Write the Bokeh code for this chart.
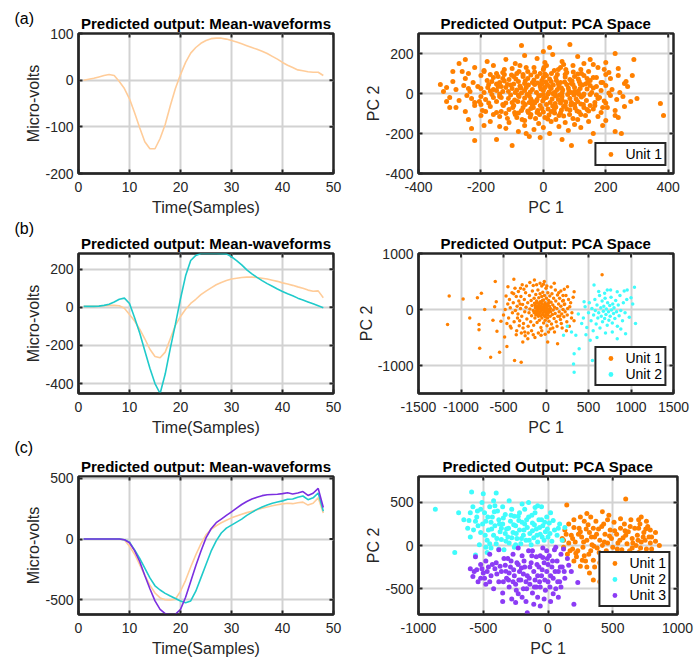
import math
from bokeh.plotting import figure
from bokeh.layouts import column, row
from bokeh.models import Range1d, FixedTicker, Label
from bokeh.embed import file_html
from bokeh.resources import INLINE

# ---------------- data ----------------
samples = list(range(1, 49))

wave_a_unit1 = [0, 2, 4, 7, 10, 12, 10, -3, -18, -40, -70, -102, -132, -147, -147, -125,
                -95, -55, -18, 12, 38, 58, 70, 79, 85, 89, 90, 90, 88, 85, 82, 78,
                74, 70, 66, 62, 57, 51, 45, 38, 32, 27, 22, 20, 18, 17, 17, 10]

wave_b_unit1 = [5, 5, 5, 6, 8, 10, 10, 8, -5, -38, -72, -115, -165, -220, -258, -265,
                -235, -165, -95, -48, -10, 20, 42, 66, 85, 102, 118, 130, 140, 148, 152, 156,
                158, 158, 156, 152, 148, 142, 136, 128, 122, 115, 107, 100, 90, 84, 86, 50]
wave_b_unit2 = [5, 5, 5, 6, 10, 16, 28, 42, 48, 20, -55, -135, -228, -320, -400, -452,
                -350, -215, -90, 45, 165, 245, 272, 282, 282, 282, 282, 281, 280, 265, 245, 222,
                196, 175, 157, 140, 124, 110, 96, 83, 71, 60, 48, 38, 28, 18, 8, -2]

wave_c_unit1 = [0, 0, 0, 0, 0, 0, 0, 0, -8, -60, -125, -210, -300, -380, -445, -485,
                -500, -502, -495, -430, -340, -230, -130, -40, 35, 80, 110, 135, 155, 175, 190, 205,
                218, 230, 242, 255, 265, 275, 283, 290, 295, 292, 300, 305, 280, 295, 340, 215]
wave_c_unit2 = [0, 0, 0, 0, 0, 0, 0, 0, -5, -25, -90, -160, -240, -320, -385, -420,
                -448, -470, -490, -510, -525, -510, -430, -320, -210, -100, -15, 50, 90, 115, 140, 165,
                195, 220, 245, 265, 280, 295, 305, 315, 328, 330, 345, 355, 325, 340, 380, 230]
wave_c_unit3 = [0, 0, 0, 0, 0, 0, 0, 0, -5, -30, -95, -185, -300, -410, -510, -580,
                -615, -622, -620, -580, -480, -350, -220, -100, 10, 85, 135, 165, 195, 225, 255, 285,
                310, 330, 345, 358, 365, 368, 370, 375, 382, 372, 380, 392, 360, 378, 418, 260]

pca_a_unit1 = [
    (-330, 45), (-320, 10), (-300, -70), (-290, 110), (-270, 150), (-230, -175), (-220, -235),
    (-150, -230), (-100, -260), (-55, -200), (-70, 240), (0, 210), (20, 230), (85, 245), (90, -260),
    (150, -240), (230, 200), (250, -200), (260, -260), (290, 170), (285, 90), (375, -50), (385, -110),
    (300, -25), (260, 50), (240, -120), (-250, 170), (-310, -40),
    (-180, 160), (-120, 170), (-60, 190), (-20, 175), (30, 195), (60, 160), (110, 185), (150, 170),
    (200, 155), (-90, 150), (5, 155), (130, 150),
    (-260, 110), (-220, 130), (-190, 115), (-160, 140), (-130, 105), (-100, 125), (-75, 140),
    (-50, 110), (-30, 130), (-10, 100), (10, 140), (35, 115), (55, 130), (75, 105), (95, 140),
    (120, 120), (145, 110), (175, 130), (210, 105), (240, 125), (-240, 100), (-150, 100), (0, 120),
    (65, 145), (160, 145), (195, 120),
    (-290, 60), (-250, 75), (-225, 55), (-200, 90), (-180, 65), (-160, 80), (-140, 55), (-125, 95),
    (-110, 70), (-95, 85), (-80, 60), (-65, 95), (-50, 75), (-35, 55), (-20, 85), (-5, 65), (10, 90),
    (25, 60), (40, 80), (55, 55), (70, 95), (85, 70), (100, 85), (115, 60), (130, 90), (150, 65),
    (170, 80), (190, 55), (215, 75), (240, 90), (265, 60), (-170, 95), (-130, 75), (-60, 50), (0, 80),
    (45, 95), (90, 50), (140, 75), (200, 95), (-85, 100), (-40, 92), (20, 72), (110, 98),
    (-310, 30), (-280, 20), (-255, 40), (-235, 10), (-210, 35), (-190, 5), (-175, 45), (-160, 20),
    (-145, 35), (-130, 10), (-115, 45), (-100, 25), (-90, 5), (-75, 38), (-60, 15), (-48, 42),
    (-35, 20), (-22, 5), (-10, 35), (0, 15), (12, 45), (25, 25), (38, 8), (50, 38), (62, 18), (75, 45),
    (88, 5), (100, 30), (112, 12), (125, 42), (140, 22), (155, 5), (170, 35), (185, 15), (200, 40),
    (220, 20), (245, 5), (270, 35), (-200, 25), (-120, 30), (-70, 2), (-5, 48), (30, 0), (80, 28),
    (135, 48), (210, 2), (-150, 48), (-55, 30), (5, 30), (60, 3), (160, 28), (-240, 25), (-170, 12),
    (-85, 18), (45, 20), (95, 45), (-28, 45), (118, 25),
    (-300, -20), (-270, -35), (-245, -10), (-220, -45), (-200, -15), (-185, -30), (-165, -5),
    (-150, -40), (-135, -20), (-120, -48), (-105, -8), (-92, -32), (-78, -15), (-65, -45), (-52, -5),
    (-40, -28), (-28, -48), (-15, -12), (-2, -38), (10, -20), (22, -45), (35, -5), (48, -30),
    (60, -15), (72, -42), (85, -25), (98, -8), (110, -40), (122, -18), (138, -35), (150, -5),
    (165, -45), (180, -20), (195, -38), (215, -10), (235, -30), (255, -15), (280, -40), (-230, -25),
    (-140, -2), (-60, -22), (0, -5), (55, -48), (130, -2), (200, -48), (-100, -45), (-20, -30),
    (40, -12), (90, -45), (170, -8), (-175, -48), (-45, -45), (15, -3), (105, -28),
    (-280, -70), (-250, -90), (-220, -60), (-195, -85), (-170, -65), (-150, -95), (-130, -55),
    (-110, -80), (-95, -60), (-80, -98), (-65, -70), (-50, -88), (-35, -58), (-20, -95), (-5, -75),
    (10, -55), (25, -90), (40, -68), (55, -97), (70, -60), (85, -82), (100, -55), (115, -92),
    (130, -70), (145, -88), (165, -60), (185, -95), (205, -70), (230, -85), (260, -65), (-120, -100),
    (-40, -75), (30, -62), (120, -52), (-200, -55), (0, -92), (75, -78), (160, -78),
    (-240, -130), (-200, -110), (-170, -140), (-140, -115), (-110, -145), (-85, -120), (-60, -135),
    (-40, -105), (-15, -150), (5, -120), (25, -140), (50, -110), (70, -145), (95, -125), (120, -105),
    (145, -140), (175, -115), (200, -135), (230, -110), (-90, -105), (-25, -125), (40, -130),
    (110, -130), (-160, -105),
    (-190, -160), (-120, -175), (-80, -190), (-60, -160), (-30, -180), (0, -170), (20, -200),
    (50, -165), (80, -185), (120, -170), (160, -200), (190, -160), (-140, -165), (100, -155),
    (-10, -220), (60, -230), (230, -190), (-45, -215),
    (-145, 85), (-125, 62), (-105, 42), (-88, 72), (-72, 28), (-58, 62), (-42, 8), (-30, 68),
    (-18, 52), (-8, 22), (8, 58), (18, 8), (32, 42), (42, 65), (58, 28), (68, 58), (82, 12), (92, 62),
    (105, 2), (118, 48), (128, -10), (142, 55), (-140, -15), (-128, -60), (-112, -25), (-98, -70),
    (-82, -40), (-70, -85), (-58, -55), (-45, -12), (-32, -70), (-22, -38), (-10, -60), (2, -25),
    (15, -78), (28, -28), (38, -50), (52, -8), (65, -65), (78, -5), (88, -58), (102, -72), (115, -5),
    (128, -55), (140, -80), (-150, 15), (-135, 35), (-95, 48), (-48, -95), (18, -108), (65, -112),
    (-112, 10), (-18, -85), (48, 50), (112, 72), (-165, 60), (150, 40), (-65, 85), (70, 82), (5, 98),
    (-135, -90), (-125, 120), (-115, -125), (-102, 92), (-92, -95), (-78, 110), (-68, -130),
    (-55, 130), (-42, -118), (-28, 108), (-12, -105), (2, 130), (14, -128), (26, 100), (36, -98),
    (48, 120), (58, -82), (72, 120), (84, -105), (96, 108), (108, -88), (122, 100), (135, -110),
    (150, -60), (160, 80), (175, -25), (-185, -90), (-178, 30), (-190, 110), (-205, -40), (185, 55),
    (190, -70), (-10, -10), (20, 35), (-35, -40), (60, -32), (-80, -8), (100, 10), (-160, -20),
    (35, -80),
]

pca_b_unit1 = [
    (-1158, -270), (-1139, 240), (-975, 186), (-897, -150), (-807, 210), (-788, -270), (-788, -360),
    (-780, -690), (-760, 290), (-721, 0), (-651, -852), (-597, 498), (-577, -390), (-546, -762),
    (-530, -210), (-460, -660), (-370, -912), (-292, -942), (-378, 540), (-273, -582), (-136, 528),
    (-20, 498), (97, 468), (253, 408), (331, 318), (136, -612), (20, -582), (-214, -522), (-58, -462),
    (-448, 408), (-604, 48), (-624, -192), (-487, -492), (-585, 138), (660, 620),
    (-450, 100), (-500, -100), (-420, -300), (-380, 280), (-350, -450), (-300, 380), (-250, -400),
    (150, 300), (180, -250), (220, 100), (250, -100), (200, 250), (100, -400), (-150, -450),
    (-50, 420), (50, -350), (280, 50), (300, -150),
    (-340, 60), (-330, -80), (-320, 150), (-310, -200), (-300, 20), (-295, 230), (-285, -120),
    (-275, 90), (-265, -250), (-255, 180), (-250, -40), (-240, 300), (-235, 40), (-225, -170),
    (-215, 120), (-210, -300), (-200, -60), (-195, 250), (-190, 10), (-180, -220), (-175, 160),
    (-170, -110), (-165, 70), (-160, 330), (-150, -20), (-145, -280), (-140, 200), (-135, 110),
    (-130, -150), (-125, 30), (-120, 270), (-115, -70), (-110, 150), (-105, -230), (-100, 60),
    (-98, -10), (-95, 350), (-90, -120), (-85, 210), (-82, 100), (-78, -190), (-75, 20), (-70, 280),
    (-68, -60), (-65, 140), (-60, -320), (-58, 60), (-55, -20), (-50, 230), (-48, -150), (-45, 100),
    (-40, -90), (-38, 310), (-35, 0), (-30, 170), (-28, -240), (-25, 50), (-20, -110), (-18, 250),
    (-15, -40), (-12, 120), (-10, -190), (-5, 30), (0, 380), (2, -80), (5, 200), (8, -10),
    (12, -290), (15, 90), (18, -150), (22, 300), (25, 0), (28, -60), (32, 160), (35, -210), (40, 60),
    (45, 240), (48, -120), (52, 20), (55, -40), (60, 130), (65, -260), (70, 280), (75, -90), (80, 80),
    (85, -10), (90, 200), (95, -160), (100, 40), (108, -70), (115, 150), (120, -220), (128, 20),
    (135, 260), (140, -120), (148, 100), (155, -40), (160, 200), (170, -180), (175, 60), (185, -80),
    (195, 150), (200, 0), (210, -130), (215, 90),
    (-140, -60), (-128, 70), (-118, -30), (-108, 110), (-92, 40), (-88, -80), (-72, 130),
    (-62, -110), (-52, 10), (-42, 160), (-32, -60), (-22, 80), (-8, -130), (-2, 90), (10, 40),
    (20, -100), (30, 110), (38, -20), (-120, -100), (-60, -5), (-80, 55), (-100, -40), (-30, -15),
    (0, -40), (-45, 40), (-110, 20), (-20, 10), (15, -60), (-70, -40), (-55, 110),
    (-440, -150), (-430, 180), (-420, 30), (-410, -330), (-400, 300), (-395, -60), (-385, 120),
    (-375, -220), (-365, 380), (-360, -20), (-350, 230), (-345, -380), (-335, -150), (-325, 320),
    (-315, -290), (-305, 100), (-290, -420), (-280, 440), (-270, -330), (-260, 360), (-245, -470),
    (-230, 420), (-210, -420), (-190, 480), (-170, -380), (-150, 430), (-130, -500), (-110, 440),
    (-90, -420), (-70, 470), (-50, -380), (-30, 450), (-10, -440), (10, 420), (30, -400), (60, 400),
    (80, -330), (110, 350), (130, -300), (160, -120), (175, 330), (190, -330), (205, 160), (225, -40),
    (235, 250), (245, -220), (255, 20), (265, 180), (275, -300), (290, 120), (305, -60), (320, 220),
    (330, -200), (240, -380), (215, 360), (-460, -250), (-470, 240), (-480, 0),
]

pca_b_unit2 = [
    (331, -792), (324, -972), (331, -1122), (390, -702), (351, -462), (206, -462), (546, -912),
    (682, -852), (838, -522), (936, -432), (1053, -252), (1041, 396), (955, 348), (721, 348),
    (565, 438), (838, 318), (448, 138),
    (420, -250), (440, -150), (460, 50), (480, -320), (500, -60), (510, 120), (530, -200), (540, 20),
    (555, -380), (560, -100), (575, 180), (580, -20), (590, -260), (600, 80), (610, -150), (620, -60),
    (630, 250), (635, -330), (645, 30), (650, -120), (660, 150), (665, -220), (675, -30), (680, 60),
    (690, -160), (695, 200), (705, -90), (710, 10), (720, -280), (725, 120), (735, -40), (740, -190),
    (750, 70), (755, -120), (765, 220), (770, -10), (780, -240), (785, 100), (795, -70), (800, 30),
    (810, -160), (820, 160), (830, -40), (840, -300), (850, 80), (860, -110), (870, 250), (880, -20),
    (900, -200), (910, 120), (930, -60), (950, 180), (980, -140), (1000, 210), (1020, 100),
    (250, -300), (300, -400), (380, -80), (470, -450), (520, -550), (600, -500), (700, -420),
    (780, -400), (880, -350), (620, 320), (690, 290), (760, 350), (920, 330),
]

pca_c_unit1 = [
    (600, 540), (145, 470), (420, 390), (300, 370), (250, 330), (470, 350), (560, 310), (700, 300),
    (790, 180), (830, 150), (860, 0), (800, -40), (750, -150), (700, -250), (640, -200), (560, -330),
    (400, -420), (350, -400), (430, -300), (300, -250), (200, -180), (150, -100), (120, -20),
    (110, 80), (130, 180), (160, 250), (200, 300),
    (180, 120), (210, 40), (230, -60), (240, 200), (260, 100), (270, -20), (280, -120), (300, 60),
    (310, 240), (320, 150), (330, -60), (340, 10), (350, -170), (360, 100), (370, 280), (380, -30),
    (390, 190), (400, 60), (410, -120), (420, 0), (430, 250), (440, 130), (450, -60), (460, 30),
    (470, -190), (480, 180), (490, 80), (500, -20), (510, 270), (520, -100), (530, 130), (540, 30),
    (550, -200), (560, 200), (570, -50), (580, 90), (590, 250), (600, -120), (610, 20), (620, 160),
    (630, -60), (640, 300), (650, 80), (660, -150), (670, 200), (680, 0), (690, 120), (700, -80),
    (710, 250), (720, 40), (730, -170), (740, 150), (750, 60), (760, -40), (770, 220), (780, 100),
    (200, 210), (190, -40), (220, -130), (250, 160), (280, 280), (330, 330), (290, -180), (360, -250),
    (440, -240), (510, -280), (600, -230), (660, -280), (720, -120), (800, 100), (820, -100),
    (760, 280), (160, 30), (140, 130), (170, -60), (350, 200), (400, -200), (460, 300), (540, -150),
    (600, 120), (650, -30), (700, 200), (250, -240), (320, -320), (480, -350), (580, -380),
    (720, 330), (830, 50),
    (190, 80), (215, -90), (235, 130), (265, -170), (275, 40), (295, 190), (315, -100), (335, 100),
    (355, -10), (375, 130), (395, -80), (415, 220), (435, 40), (455, -130), (475, 110), (495, -230),
    (515, 170), (535, -40), (555, 60), (575, -140), (595, 170), (615, -90), (635, 220), (655, 30),
    (675, -100), (695, 60), (715, -30), (735, 100), (755, 190), (775, -110), (790, 30), (120, 60),
]

pca_c_unit2 = [
    (-870, 420), (-720, -80), (-590, 620), (-500, 600), (-400, 610), (-560, -110), (-470, -80),
    (-690, 380), (-650, 300), (-620, 200), (-600, 100), (-580, 450), (-550, 330), (-540, 230),
    (-530, 10), (-520, 150), (-510, 500), (-490, 380), (-480, 280), (-470, 60), (-460, 180),
    (-450, 450), (-440, -30), (-430, 330), (-420, 120), (-410, 230), (-400, 20), (-390, 400),
    (-380, 300), (-370, 160), (-360, 70), (-350, 250), (-340, -50), (-330, 360), (-320, 190),
    (-310, 100), (-300, 30), (-290, 280), (-280, 420), (-270, 150), (-260, -20), (-250, 230),
    (-240, 80), (-230, 340), (-220, 180), (-210, 20), (-200, 270), (-190, 120), (-180, 420),
    (-170, 60), (-160, 210), (-150, 330), (-140, 140), (-130, 10), (-120, 260), (-110, 90),
    (-100, 380), (-90, 190), (-80, 40), (-70, 300), (-60, 130), (-50, 450), (-40, 230), (-30, 60),
    (-20, 160), (-10, 330), (0, 100), (10, 260), (30, 50), (50, 180), (70, 120), (90, 250), (110, 60),
    (130, 210), (-350, 450), (-300, 520), (-200, 480), (-150, 500), (-100, 440), (-450, 20),
    (-600, 380), (-480, -20), (-380, -40), (-250, 10), (-520, 420), (-420, 520), (-330, 140),
    (-260, 340), (-180, 250), (-120, 170), (-50, 300), (20, 380), (-560, 280), (-440, 270),
    (-360, 200), (-280, 90), (-220, 380), (-80, 460),
    (-610, 290), (-575, 180), (-545, 400), (-505, 250), (-485, 120), (-465, 330), (-435, 190),
    (-415, 390), (-395, 80), (-375, 250), (-345, 320), (-325, 50), (-305, 200), (-285, 350),
    (-265, 240), (-245, 140), (-225, 290), (-205, 80), (-185, 180), (-165, 300), (-145, 60),
    (-125, 350), (-105, 240), (-85, 120), (-65, 210), (-45, 100), (-25, 270), (-5, 190), (15, 140),
    (40, 290), (80, 200), (-410, 460),
]

pca_c_unit3 = [
    (-600, -270), (-580, -360), (-550, -280), (-520, -380), (-500, -320), (-480, -450), (-460, -250),
    (-440, -350), (-420, -500), (-400, -200), (-380, -420), (-360, -300), (-350, -550), (-340, -150),
    (-320, -380), (-300, -480), (-290, -250), (-280, -620), (-270, -100), (-260, -350), (-250, -450),
    (-240, -200), (-230, -560), (-220, -300), (-210, -400), (-200, -120), (-190, -500), (-180, -250),
    (-170, -650), (-160, -350), (-150, -60), (-140, -450), (-130, -200), (-120, -550), (-110, -300),
    (-100, -400), (-90, -130), (-80, -600), (-70, -250), (-60, -480), (-50, -350), (-40, -30),
    (-30, -200), (-20, -520), (-10, -300), (0, -420), (10, -120), (20, -650), (30, -250), (40, -380),
    (50, -50), (60, -500), (70, -180), (80, -300), (90, -420), (100, -100), (110, -250), (130, -380),
    (150, -150), (180, -300), (200, -680), (230, -430), (-160, -780), (-250, -660), (-350, -650),
    (-560, -130), (-450, -100), (-380, -50), (-310, -150), (-230, -30), (-120, -60), (-60, -120),
    (-10, -60), (60, -20), (120, -40), (-410, -270), (-330, -230), (-270, -420), (-190, -330),
    (-140, -250), (-90, -480), (-40, -140), (0, -220), (40, -560), (-200, -600), (-110, -680),
    (-60, -700), (-30, -620), (80, -600), (-480, -180), (-520, -220), (-300, -320), (-230, -220),
    (-170, -420), (-80, -350), (20, -350), (100, -480),
    (-570, -300), (-540, -420), (-510, -270), (-490, -380), (-470, -300), (-450, -420), (-430, -220),
    (-395, -330), (-370, -240), (-345, -420), (-325, -300), (-305, -400), (-285, -180), (-265, -280),
    (-245, -520), (-225, -400), (-205, -260), (-185, -180), (-165, -500), (-145, -380), (-125, -120),
    (-105, -480), (-85, -220), (-65, -420), (-45, -280), (-25, -400), (-5, -150), (15, -480),
    (35, -180), (55, -300), (75, -420), (95, -250), (125, -300), (160, -230),
]

unit_labels = ["Unit 1", "Unit 2", "Unit 3"]
wave_title = "Predicted output: Mean-waveforms"
pca_title = "Predicted Output: PCA Space"
panel_tags = ["(a)", "(b)", "(c)"]

wave_xticks = [0, 10, 20, 30, 40, 50]
wave_a_yticks = [-200, -100, 0, 100]
wave_b_yticks = [-400, -200, 0, 200]
wave_c_yticks = [-500, 0, 500]
pca_a_xticks = [-400, -200, 0, 200, 400]
pca_a_yticks = [-400, -200, 0, 200]
pca_b_xticks = [-1500, -1000, -500, 0, 500, 1000, 1500]
pca_b_yticks = [-1000, 0, 1000]
pca_c_xticks = [-1000, -500, 0, 500, 1000]
pca_c_yticks = [-500, 0, 500]

# ---------------- styling ----------------
FONT = "Liberation Sans"
DARK = "#262626"
PEACH = "#ffcc99"
TEAL = "#1fcaca"
VIOLET = "#7b2fe0"
ORANGE = "#ff8000"
CYAN = "#3ffcfc"
PURPLE = "#8c3cf5"


def base_fig(title, xr, yr, xticks, yticks, xlabel, ylabel, left, top, frame_w, frame_h,
             bottom, right):
    p = figure(width=left + frame_w + right, height=top + frame_h + bottom,
               frame_width=frame_w, frame_height=frame_h,
               min_border_left=left, min_border_right=right,
               min_border_top=top, min_border_bottom=bottom,
               x_range=Range1d(*xr), y_range=Range1d(*yr),
               output_backend="svg", toolbar_location=None)
    p.title.text = title
    p.title.align = "center"
    p.title.text_font = FONT
    p.title.text_font_size = "15px"
    p.title.text_font_style = "bold"
    p.title.text_color = "#000000"
    p.title.standoff = 4
    p.outline_line_color = DARK
    p.outline_line_width = 2.5
    p.outline_line_alpha = 1
    p.background_fill_color = "white"
    p.border_fill_color = "white"
    for ax, ticks in ((p.xaxis[0], xticks), (p.yaxis[0], yticks)):
        ax.ticker = FixedTicker(ticks=ticks)
        ax.major_label_overrides = {t: str(t) for t in ticks}
        ax.major_label_text_font = FONT
        ax.major_label_text_font_size = "14px"
        ax.major_label_text_color = DARK
        ax.axis_label_text_font = FONT
        ax.axis_label_text_font_size = "16px"
        ax.axis_label_text_font_style = "normal"
        ax.axis_label_text_color = DARK
        ax.major_tick_in = 4
        ax.major_tick_out = 0
        ax.major_tick_line_color = DARK
        ax.major_tick_line_width = 2
        ax.minor_tick_line_color = None
        ax.axis_line_color = DARK
        ax.axis_line_width = 2
    p.xaxis[0].axis_label = xlabel
    p.yaxis[0].axis_label = ylabel
    p.xaxis[0].major_label_standoff = 8
    p.xaxis[0].axis_label_standoff = 4
    p.yaxis[0].major_label_standoff = 5
    p.yaxis[0].axis_label_standoff = 0
    # inner tick marks on the right and top edges (box on)
    p.ray(x=[xr[1]] * len(yticks), y=yticks, length=4, length_units="screen",
          angle=math.pi, line_color=DARK, line_width=2)
    p.ray(x=xticks, y=[yr[1]] * len(xticks), length=4, length_units="screen",
          angle=-math.pi / 2, line_color=DARK, line_width=2)
    p.xgrid.ticker = FixedTicker(ticks=xticks)
    p.ygrid.ticker = FixedTicker(ticks=yticks)
    for g in (p.xgrid[0], p.ygrid[0]):
        g.grid_line_color = "#d2d2d2"
        g.grid_line_width = 2
    return p


def add_tag(p, text, px, py):
    # a label in the left side panel (not clipped to the frame), canvas coordinates
    p.add_layout(Label(x=px, y=py, x_units="canvas", y_units="canvas", text=text,
                       text_font=FONT, text_font_size="16px", text_color="#000000",
                       text_baseline="top", text_align="left"), "left")


def style_legend(p):
    lg = p.legend[0]
    lg.location = "bottom_right"
    lg.margin = 7
    lg.padding = 2
    lg.spacing = 0
    lg.glyph_width = 24
    lg.glyph_height = 12
    lg.label_height = 12
    lg.label_standoff = 3
    lg.label_text_font = FONT
    lg.label_text_font_size = "14px"
    lg.label_text_color = "#000000"
    lg.border_line_color = DARK
    lg.border_line_width = 2
    lg.border_line_alpha = 1
    lg.background_fill_alpha = 1


def split(pts):
    return [a for a, _ in pts], [b for _, b in pts]


rows_geo = [(33, 140, 45), (35, 140, 43), (38, 138, 52)]

# Row (a)
t, h, b = rows_geo[0]
wa = base_fig(wave_title, (0, 50), (-200, 100), wave_xticks, wave_a_yticks,
              "Time(Samples)", "Micro-volts", 78, t, 255, h, b, 15)
wa.line(samples, wave_a_unit1, line_color=PEACH, line_width=1.6)
add_tag(wa, panel_tags[0], 14, 9)

pa = base_fig(pca_title, (-400, 417), (-400, 300), pca_a_xticks, pca_a_yticks,
              "PC 1", "PC 2", 70, t, 255, h, b, 23)
x, y = split(pca_a_unit1)
pa.scatter(x, y, size=5, color=ORANGE, line_width=0, legend_label=unit_labels[0])
style_legend(pa)

# Row (b)
t, h, b = rows_geo[1]
wb = base_fig(wave_title, (0, 50), (-452, 282), wave_xticks, wave_b_yticks,
              "Time(Samples)", "Micro-volts", 78, t, 255, h, b, 15)
wb.line(samples, wave_b_unit1, line_color=PEACH, line_width=1.6)
wb.line(samples, wave_b_unit2, line_color=TEAL, line_width=1.6)
add_tag(wb, panel_tags[1], 14, 1)

pb = base_fig(pca_title, (-1500, 1500), (-1500, 1000), pca_b_xticks, pca_b_yticks,
              "PC 1", "PC 2", 70, t, 255, h, b, 23)
x, y = split(pca_b_unit1)
pb.scatter(x, y, size=3.5, color=ORANGE, line_width=0, legend_label=unit_labels[0])
x, y = split(pca_b_unit2)
pb.scatter(x, y, size=3.5, color=CYAN, line_width=0, legend_label=unit_labels[1])
style_legend(pb)

# Row (c)
t, h, b = rows_geo[2]
wc = base_fig(wave_title, (0, 50), (-622, 516), wave_xticks, wave_c_yticks,
              "Time(Samples)", "Micro-volts", 78, t, 255, h, b, 15)
wc.line(samples, wave_c_unit1, line_color=PEACH, line_width=1.6)
wc.line(samples, wave_c_unit2, line_color=TEAL, line_width=1.6)
wc.line(samples, wave_c_unit3, line_color=VIOLET, line_width=1.6)
add_tag(wc, panel_tags[2], 14, 0)

pc = base_fig(pca_title, (-1000, 1000), (-800, 800), pca_c_xticks, pca_c_yticks,
              "PC 1", "PC 2", 70, t, 259, h, b, 19)
for pts, col, lab in ((pca_c_unit1, ORANGE, unit_labels[0]),
                      (pca_c_unit2, CYAN, unit_labels[1]),
                      (pca_c_unit3, PURPLE, unit_labels[2])):
    x, y = split(pts)
    pc.scatter(x, y, size=5, color=col, line_width=0, legend_label=lab)
style_legend(pc)

layout = column(row(wa, pa), row(wb, pb), row(wc, pc))

open("out.html", "w").write(file_html(layout, INLINE))
